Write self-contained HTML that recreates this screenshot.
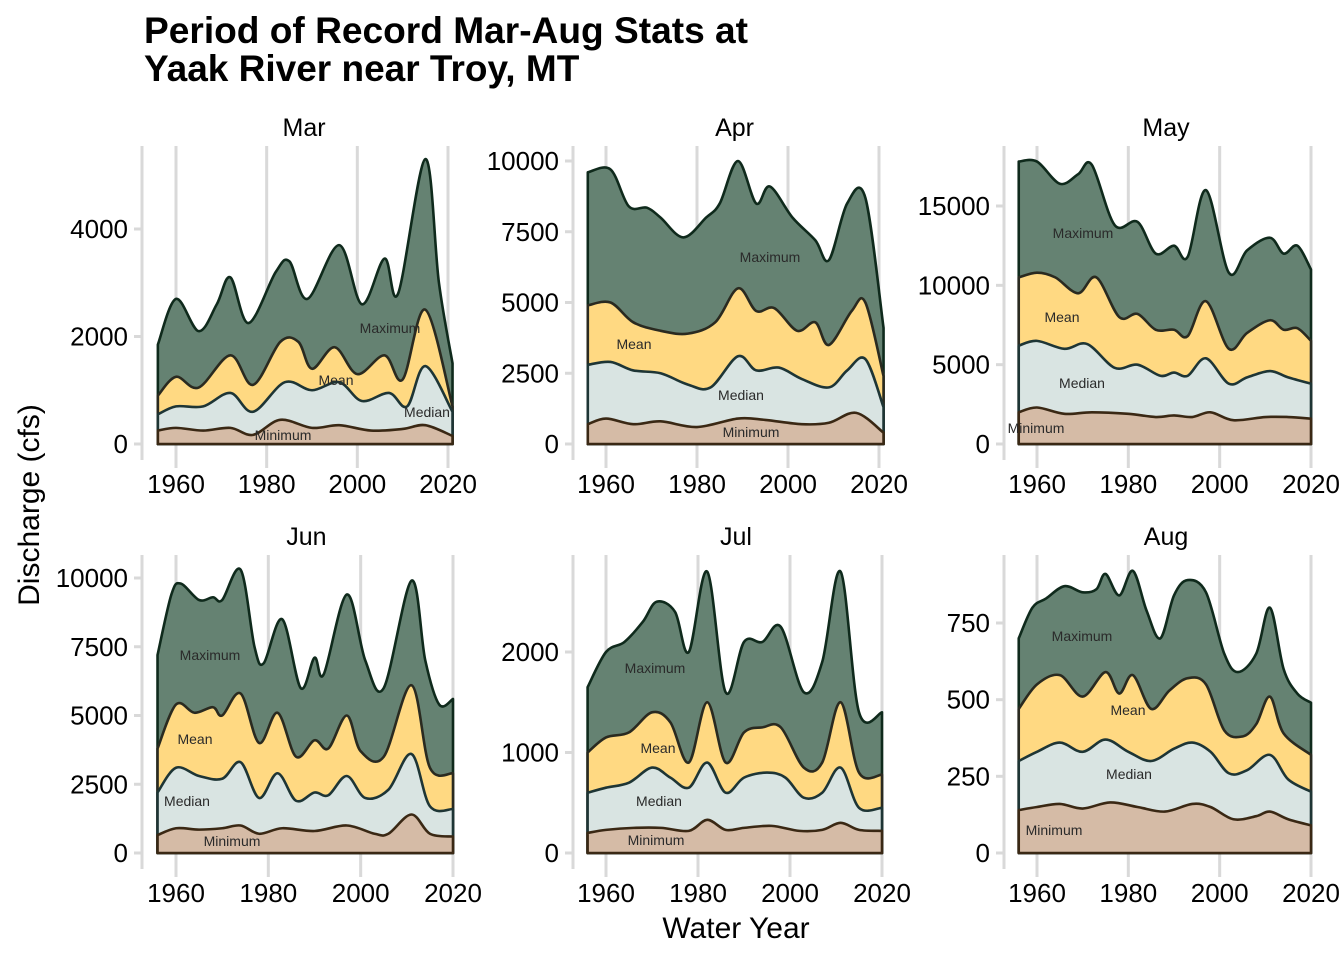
<!DOCTYPE html>
<html><head><meta charset="utf-8"><style>
body{margin:0;background:#fff;}
svg text{font-family:"Liberation Sans",sans-serif;}
</style></head><body>
<svg id="chart" width="1344" height="960" xmlns="http://www.w3.org/2000/svg">
<text x="144" y="43" font-size="37" font-weight="bold" fill="#000" textLength="604" lengthAdjust="spacingAndGlyphs">Period of Record Mar-Aug Stats at</text>
<text x="144" y="81" font-size="37" font-weight="bold" fill="#000">Yaak River near Troy, MT</text>
<text transform="translate(39,505) rotate(-90)" text-anchor="middle" font-size="30">Discharge (cfs)</text>
<text x="736" y="938" text-anchor="middle" font-size="30">Water Year</text>
<g id="panels"></g>
</svg>
<script>
const months = ["Mar","Apr","May","Jun","Jul","Aug"];
const xTickYears = [1960,1980,2000,2020];
const marTicks=[0,2000,4000], aprTicks=[0,2500,5000,7500,10000], mayTicks=[0,5000,10000,15000],
      junTicks=[0,2500,5000,7500,10000], julTicks=[0,1000,2000], augTicks=[0,250,500,750];

const marMax=[[1956,1850],[1960,2700],[1965,2100],[1969,2600],[1972,3100],[1976,2250],[1982,3200],[1985,3400],[1989,2700],[1996,3700],[2001,2600],[2006,3450],[2009,2800],[2015,5300],[2018,3000],[2021,1500]];
const marMean=[[1956,900],[1960,1250],[1965,1050],[1972,1650],[1977,1100],[1983,1900],[1987,1900],[1990,1400],[1995,1800],[2000,1300],[2006,1650],[2010,1200],[2015,2500],[2021,700]];
const marMedian=[[1956,550],[1960,700],[1966,700],[1972,950],[1977,600],[1984,1150],[1990,1000],[1996,1150],[2001,800],[2007,950],[2011,700],[2015,1450],[2021,600]];
const marMin=[[1956,250],[1960,300],[1966,250],[1972,300],[1977,170],[1983,450],[1990,300],[1996,350],[2003,250],[2010,280],[2015,350],[2021,150]];

const aprMax=[[1956,9600],[1961,9700],[1965,8400],[1969,8350],[1972,8000],[1977,7300],[1982,8000],[1985,8500],[1989,10000],[1993,8500],[1996,9100],[2001,8000],[2006,7200],[2009,6500],[2013,8500],[2017,8700],[2021,4100]];
const aprMean=[[1956,4900],[1961,5000],[1966,4300],[1972,4000],[1978,3900],[1984,4300],[1989,5500],[1993,4700],[1997,4800],[2002,4000],[2006,4300],[2009,3500],[2014,4700],[2017,5000],[2021,2400]];
const aprMedian=[[1956,2800],[1961,2900],[1966,2600],[1972,2500],[1978,2100],[1983,2000],[1989,3100],[1993,2600],[1998,2700],[2003,2300],[2009,2000],[2013,2600],[2017,3000],[2021,1300]];
const aprMin=[[1956,700],[1960,900],[1966,700],[1972,800],[1980,600],[1989,900],[1995,850],[2003,700],[2009,750],[2015,1100],[2021,400]];

const mayMax=[[1956,17800],[1960,17800],[1965,16400],[1969,17000],[1972,17600],[1977,13800],[1982,14000],[1986,12000],[1990,12500],[1993,11800],[1997,16000],[2002,10800],[2006,12200],[2011,13000],[2014,12000],[2017,12500],[2020,11000]];
const mayMean=[[1956,10500],[1960,10800],[1964,10500],[1969,9500],[1973,10500],[1978,8000],[1982,8200],[1986,7200],[1990,7200],[1993,6800],[1997,9000],[2002,6000],[2006,7000],[2011,7800],[2014,7200],[2017,7300],[2020,6500]];
const mayMedian=[[1956,6200],[1960,6500],[1966,6000],[1971,6300],[1977,4800],[1982,5000],[1987,4300],[1990,4500],[1993,4300],[1997,5400],[2002,3800],[2006,4200],[2011,4600],[2015,4200],[2020,3800]];
const mayMin=[[1956,2000],[1960,2300],[1966,1900],[1972,2000],[1980,1900],[1986,1700],[1990,1800],[1994,1700],[1998,2000],[2003,1500],[2010,1700],[2015,1700],[2020,1600]];

const junMax=[[1956,7200],[1959,9400],[1961,9800],[1965,9200],[1968,9300],[1970,9200],[1974,10300],[1977,7500],[1979,6900],[1983,8500],[1987,6000],[1990,7100],[1992,6500],[1997,9400],[2001,7000],[2005,6000],[2011,9900],[2014,7000],[2017,5400],[2020,5600]];
const junMean=[[1956,3800],[1960,5400],[1964,5100],[1968,5300],[1970,5000],[1974,5800],[1978,4000],[1982,5100],[1986,3500],[1990,4100],[1993,3800],[1997,5000],[2000,3700],[2005,3500],[2011,6100],[2015,3100],[2020,2900]];
const junMedian=[[1956,2200],[1960,3100],[1965,2800],[1970,2700],[1974,3300],[1978,2000],[1982,2900],[1986,1900],[1990,2200],[1993,2100],[1997,2800],[2001,2000],[2006,2300],[2011,3600],[2015,1700],[2020,1600]];
const junMin=[[1956,650],[1960,900],[1965,850],[1970,900],[1974,1000],[1978,700],[1983,900],[1990,800],[1997,1000],[2003,700],[2006,700],[2011,1400],[2015,700],[2020,600]];

const julMax=[[1956,1650],[1960,2000],[1964,2100],[1968,2300],[1971,2500],[1975,2400],[1978,2000],[1982,2800],[1986,1600],[1990,2100],[1994,2100],[1998,2250],[2003,1600],[2007,1900],[2011,2800],[2015,1400],[2020,1400]];
const julMean=[[1956,1000],[1960,1150],[1965,1200],[1970,1400],[1974,1300],[1978,900],[1982,1500],[1986,900],[1990,1200],[1994,1250],[1998,1250],[2003,850],[2007,900],[2011,1500],[2015,800],[2020,780]];
const julMedian=[[1956,600],[1960,650],[1965,700],[1970,850],[1974,750],[1978,650],[1982,900],[1986,600],[1990,750],[1995,800],[1999,750],[2003,550],[2007,600],[2011,850],[2015,450],[2020,450]];
const julMin=[[1956,200],[1960,230],[1966,250],[1972,250],[1978,220],[1982,330],[1986,230],[1990,250],[1996,270],[2002,220],[2007,230],[2011,300],[2015,230],[2020,220]];

const augMax=[[1956,700],[1959,800],[1962,830],[1966,870],[1970,850],[1973,860],[1975,910],[1978,840],[1981,920],[1984,790],[1987,700],[1990,840],[1993,890],[1997,850],[2001,650],[2004,590],[2008,650],[2011,800],[2014,600],[2017,520],[2020,490]];
const augMean=[[1956,470],[1960,550],[1965,580],[1970,510],[1975,590],[1978,520],[1981,580],[1985,470],[1989,530],[1993,570],[1997,550],[2001,400],[2005,380],[2008,420],[2011,510],[2014,390],[2020,320]];
const augMedian=[[1956,300],[1960,330],[1965,360],[1970,330],[1975,370],[1980,330],[1985,300],[1990,340],[1994,360],[1998,330],[2002,260],[2006,270],[2011,320],[2015,240],[2020,200]];
const augMin=[[1956,140],[1960,150],[1965,160],[1970,145],[1976,165],[1982,150],[1988,135],[1994,160],[1998,150],[2003,110],[2008,120],[2011,135],[2015,110],[2020,90]];

const layout=[
 {axisX:142,top:146,bottom:460,x60:176,x20:448,y0:444,refV:4000,refY:229,ticks:marTicks,series:[marMax,marMean,marMedian,marMin],labels:[[390,333],[336,385],[427,417],[283,440]]},
 {axisX:573,top:146,bottom:460,x60:606,x20:879,y0:444,refV:10000,refY:161,ticks:aprTicks,series:[aprMax,aprMean,aprMedian,aprMin],labels:[[770,262],[634,349],[741,400],[751,437]]},
 {axisX:1004,top:146,bottom:460,x60:1037,x20:1311,y0:444,refV:15000,refY:206,ticks:mayTicks,series:[mayMax,mayMean,mayMedian,mayMin],labels:[[1083,238],[1062,322],[1082,388],[1036,433]]},
 {axisX:142,top:555,bottom:869,x60:176,x20:453,y0:853,refV:10000,refY:578,ticks:junTicks,series:[junMax,junMean,junMedian,junMin],labels:[[210,660],[195,744],[187,806],[232,846]]},
 {axisX:573,top:555,bottom:869,x60:606,x20:882,y0:853,refV:2000,refY:652,ticks:julTicks,series:[julMax,julMean,julMedian,julMin],labels:[[655,673],[658,753],[659,806],[656,845]]},
 {axisX:1004,top:555,bottom:869,x60:1037,x20:1311,y0:853,refV:750,refY:623,ticks:augTicks,series:[augMax,augMean,augMedian,augMin],labels:[[1082,641],[1128,715],[1129,779],[1054,835]]}
];
const seriesNames=["Maximum","Mean","Median","Minimum"];
const fills=["#658272","#ffd982","#d9e4e2","#d5bba6"];
const strokes=["#0f2a1c","#2a2a20","#1e3535","#3a2814"];
const NS="http://www.w3.org/2000/svg";
const root=document.getElementById("panels");
function mk(tag,attrs,parent){const e=document.createElementNS(NS,tag);for(const k in attrs)e.setAttribute(k,attrs[k]);parent.appendChild(e);return e;}

layout.forEach((p,i)=>{
  const g=mk("g",{},root);
  
  
  const xs=yr=>p.x60+(yr-1960)*(p.x20-p.x60)/60;
  const ys=v=>p.y0-v*(p.y0-p.refY)/p.refV;
  const t=mk("text",{x:(xs(1956)+xs(2020.5))/2,y:p.top-10,"text-anchor":"middle","font-size":"25"},g);
  t.textContent=months[i];
  
  
  xTickYears.forEach(yr=>{
    const l=mk("line",{x1:xs(yr),x2:xs(yr),y1:p.top,y2:p.bottom+8,stroke:"#d9d9d9","stroke-width":"3"},g);
    
    
    const tx=mk("text",{x:xs(yr),y:p.bottom+33,"text-anchor":"middle","font-size":"26"},g);
    tx.textContent=yr;
    
    
  });
  const ax=mk("line",{x1:p.axisX,x2:p.axisX,y1:p.top,y2:p.bottom,stroke:"#d9d9d9","stroke-width":"3"},g);
  
  
  p.ticks.forEach(v=>{
    const tk=mk("line",{x1:p.axisX-8,x2:p.axisX,y1:ys(v),y2:ys(v),stroke:"#d9d9d9","stroke-width":"3"},g);
    
    
    const tl=mk("text",{x:p.axisX-14,y:ys(v)+9,"text-anchor":"end","font-size":"26"},g);
    tl.textContent=v;
    
    
  });
  p.series.forEach((s,k)=>{
    const pts=s.map(d=>[xs(d[0]),ys(d[1])]);
    let d=`M${pts[0][0]},${p.y0}L${pts[0][0]},${pts[0][1]}`;
    for(let j=0;j<pts.length-1;j++){
      const p0=pts[Math.max(0,j-1)],p1=pts[j],p2=pts[j+1],p3=pts[Math.min(pts.length-1,j+2)];
      const c1=[p1[0]+(p2[0]-p0[0])/6,p1[1]+(p2[1]-p0[1])/6];
      const c2=[p2[0]-(p3[0]-p1[0])/6,p2[1]-(p3[1]-p1[1])/6];
      d+=`C${c1[0]},${c1[1]} ${c2[0]},${c2[1]} ${p2[0]},${p2[1]}`;
    }
    d+=`L${pts[pts.length-1][0]},${p.y0}Z`;
    const a=mk("path",{d:d,fill:fills[k],stroke:strokes[k],"stroke-width":"2.6","stroke-linejoin":"round"},g);
    
    
  });
  p.labels.forEach((lb,k)=>{
    const t2=mk("text",{x:lb[0],y:lb[1],"text-anchor":"middle","font-size":"14",fill:"#2a2a2a"},g);
    t2.textContent=seriesNames[k];
    
    
  });
});
</script>
</body></html>
